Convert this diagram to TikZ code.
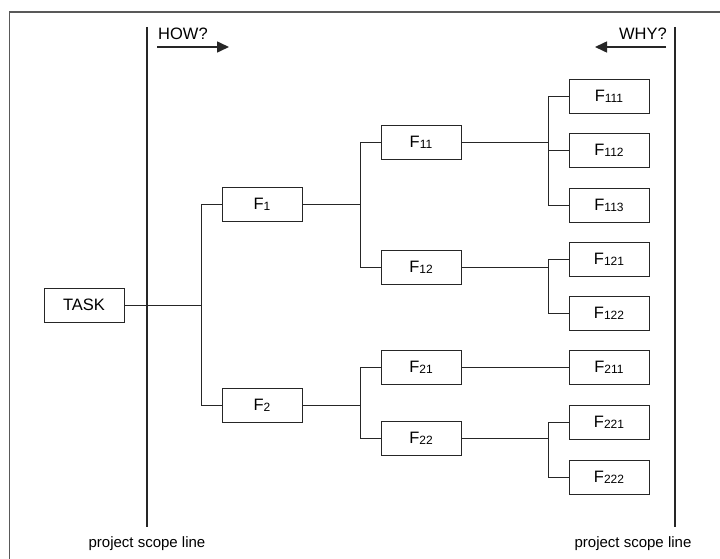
\documentclass[tikz,border=0pt]{standalone}
\usepackage{fontspec}
\setmainfont{Liberation Sans}
\usetikzlibrary{arrows.meta}
\newcommand\fsub[1]{\raisebox{-1pt}{\fontsize{12}{13}\selectfont #1}}
\begin{document}
\begin{tikzpicture}[x=1pt,y=-1pt,
  fbox/.style={draw=black!85, line width=0.9pt, minimum width=80pt, minimum height=34pt, inner sep=0pt, font=\fontsize{16.5}{18}\selectfont},
  conn/.style={draw=black!85, line width=0.9pt},
  scopeln/.style={draw=black!85, line width=1.8pt},
  lbl/.style={font=\fontsize{15}{17}\selectfont, inner sep=0pt},
  hw/.style={font=\fontsize{16.5}{18}\selectfont, inner sep=0pt},
  arr/.style={draw=black!85, line width=1.6pt, -{Triangle[length=12pt,width=11pt]}}]
\useasboundingbox (0,0) rectangle (720,559);
% frame
\draw[black!65, line width=1.2pt] (9.5,559) -- (9.5,12) -- (720,12);
% scope lines
\coordinate (s1t) at (147,27);
\coordinate (s1b) at (147,527);
\coordinate (s2t) at (675,27);
\coordinate (s2b) at (675,527);
\draw[scopeln] (s1t) -- (s1b);
\draw[scopeln] (s2t) -- (s2b);
% labels
\node[hw, anchor=base west] (how) at (158,40) {HOW?};
\node[hw, anchor=base east] (why) at (667,40) {WHY?};
\coordinate (ha) at (157,47);
\coordinate (hb) at (229,47);
\coordinate (wa) at (666,47);
\coordinate (wb) at (595,47);
\draw[arr] (ha) -- (hb);
\draw[arr] (wa) -- (wb);
\node[lbl, anchor=base] (pl1) at (147,547) {project scope line};
\node[lbl, anchor=base] (pl2) at (633,547) {project scope line};
% nodes
\node[fbox] (task) at (84,305) {TASK};
\node[fbox] (f1) at (262,204.5) {F\fsub{1}};
\node[fbox] (f2) at (262,405) {F\fsub{2}};
\node[fbox] (f11) at (421,142.5) {F\fsub{11}};
\node[fbox] (f12) at (421,267.5) {F\fsub{12}};
\node[fbox] (f21) at (421,367) {F\fsub{21}};
\node[fbox] (f22) at (421,438.5) {F\fsub{22}};
\node[fbox] (f111) at (609,96) {F\fsub{111}};
\node[fbox] (f112) at (609,150) {F\fsub{112}};
\node[fbox] (f113) at (609,205) {F\fsub{113}};
\node[fbox] (f121) at (609,259) {F\fsub{121}};
\node[fbox] (f122) at (609,313) {F\fsub{122}};
\node[fbox] (f211) at (609,367) {F\fsub{211}};
\node[fbox] (f221) at (609,422) {F\fsub{221}};
\node[fbox] (f222) at (609,477) {F\fsub{222}};
% junction columns
\coordinate (j0) at (201,0);
\coordinate (j1) at (360,0);
\coordinate (j2) at (548,0);
% connectors
\draw[conn] (task.east) -- (task.east -| j0);
\draw[conn] (f1.west) -- (f1.west -| j0) -- (f2.west -| j0) -- (f2.west);
\draw[conn] (f1.east) -- (f1.east -| j1);
\draw[conn] (f11.west) -- (f11.west -| j1) -- (f12.west -| j1) -- (f12.west);
\draw[conn] (f2.east) -- (f2.east -| j1);
\draw[conn] (f21.west) -- (f21.west -| j1) -- (f22.west -| j1) -- (f22.west);
\draw[conn] (f11.east) -- (f11.east -| j2);
\draw[conn] (f111.west) -- (f111.west -| j2) -- (f113.west -| j2) -- (f113.west);
\draw[conn] (f112.west) -- (f112.west -| j2);
\draw[conn] (f12.east) -- (f12.east -| j2);
\draw[conn] (f121.west) -- (f121.west -| j2) -- (f122.west -| j2) -- (f122.west);
\draw[conn] (f21.east) -- (f211.west);
\draw[conn] (f22.east) -- (f22.east -| j2);
\draw[conn] (f221.west) -- (f221.west -| j2) -- (f222.west -| j2) -- (f222.west);
\end{tikzpicture}
\end{document}
